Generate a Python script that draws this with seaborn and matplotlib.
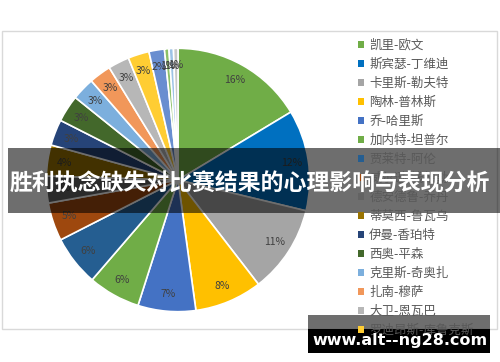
import matplotlib
matplotlib.use("Agg")
import matplotlib.pyplot as plt
import seaborn as sns
from matplotlib.patches import Rectangle, Patch

# ---- data ----
players = ["凯里-欧文", "斯宾瑟-丁维迪", "卡里斯-勒夫特", "陶林-普林斯", "乔-哈里斯",
           "加内特-坦普尔", "贾莱特-阿伦", "威尔逊-钱德勒", "德安德鲁-乔丹", "蒂莫西-鲁瓦乌",
           "伊曼-香珀特", "西奥-平森", "克里斯-奇奥扎", "扎南-穆萨", "大卫-恩瓦巴",
           "罗迪昂斯-库鲁克斯", "泰勒-约翰逊", "贾马尔-克劳福德", "兰斯-托马斯", "杰里迈亚-马丁"]
shares = [16.4, 12.4, 10.8, 8.3, 7.1, 6.4, 6.2, 4.7, 3.3, 3.8,
          3.2, 3.3, 2.8, 2.7, 2.6, 2.6, 1.9, 0.55, 0.55, 0.55]
colors = ["#70AD47", "#0070C0", "#A5A5A5", "#FFC000", "#4472C4", "#70AD47", "#255E91",
          "#9E480E", "#636363", "#997300", "#264478", "#43682B", "#7CAFDD", "#F1975A",
          "#B7B7B7", "#FFCD33", "#698ED0", "#8CC168", "#9DC3E6", "#C9C9C9"]
title = "胜利执念缺失对比赛结果的心理影响与表现分析"
watermark = "www.alt--ng28.com"

sns.set_theme(style="white")
plt.rcParams['font.family'] = ['Noto Sans CJK SC', 'DejaVu Sans']

W, H = 500, 362
fig = plt.figure(figsize=(5, 3.62), dpi=100)
fig.patch.set_facecolor("white")


def fx(px):
    return px / W


def fy(py):
    return 1 - py / H


# chart frame
fig.patches.append(Rectangle((fx(2), fy(329)), (497 - 2) / W, (329 - 31) / H,
                             transform=fig.transFigure, fill=False,
                             edgecolor="#D9D9D9", lw=1, zorder=0))

palette = sns.color_palette(colors)
ax = fig.add_axes([fx(45), fy(313), 266 / W, 266 / H])
wedges, texts, autotexts = ax.pie(
    shares, colors=palette, startangle=90, counterclock=False,
    autopct=lambda p: f"{p:.0f}%", pctdistance=0.87,
    wedgeprops=dict(edgecolor="white", linewidth=1.2),
    textprops=dict(color="#404040", fontsize=7.5))
ax.set_xlim(-1.01, 1.01)
ax.set_ylim(-1.01, 1.01)

# legend
n_leg = 16
handles = [Patch(facecolor=c, edgecolor="none") for c in palette[:n_leg]]
fig.legend(handles, players[:n_leg], loc="upper left",
           bbox_to_anchor=(fx(358), fy(39)), frameon=False, fontsize=9,
           handlelength=0.45, handleheight=0.45, handletextpad=0.45,
           labelspacing=0.48, borderaxespad=0, borderpad=0,
           labelcolor="#595959")

# title banner
fig.patches.append(Rectangle((fx(8), fy(213)), (500 - 8) / W, (213 - 148) / H,
                             transform=fig.transFigure, facecolor="black",
                             alpha=0.57, edgecolor="none", zorder=5))
fig.text(fx(250), fy(184), title, ha="center", va="center", color="white",
         fontsize=16.5, fontweight="bold", zorder=6)

# watermark
fig.patches.append(Rectangle((fx(308), fy(329)), (490 - 308) / W, (329 - 315) / H,
                             transform=fig.transFigure, facecolor="black",
                             alpha=0.57, edgecolor="none", zorder=5))
fig.patches.append(Rectangle((fx(308), fy(353)), (490 - 308) / W, (353 - 329) / H,
                             transform=fig.transFigure, facecolor="black",
                             edgecolor="none", zorder=5))
fig.text(fx(400), fy(341), watermark, ha="center", va="center", color="white",
         fontsize=11.5, fontweight="bold", family="DejaVu Sans", zorder=6)

fig.savefig("out.png", dpi=100)
